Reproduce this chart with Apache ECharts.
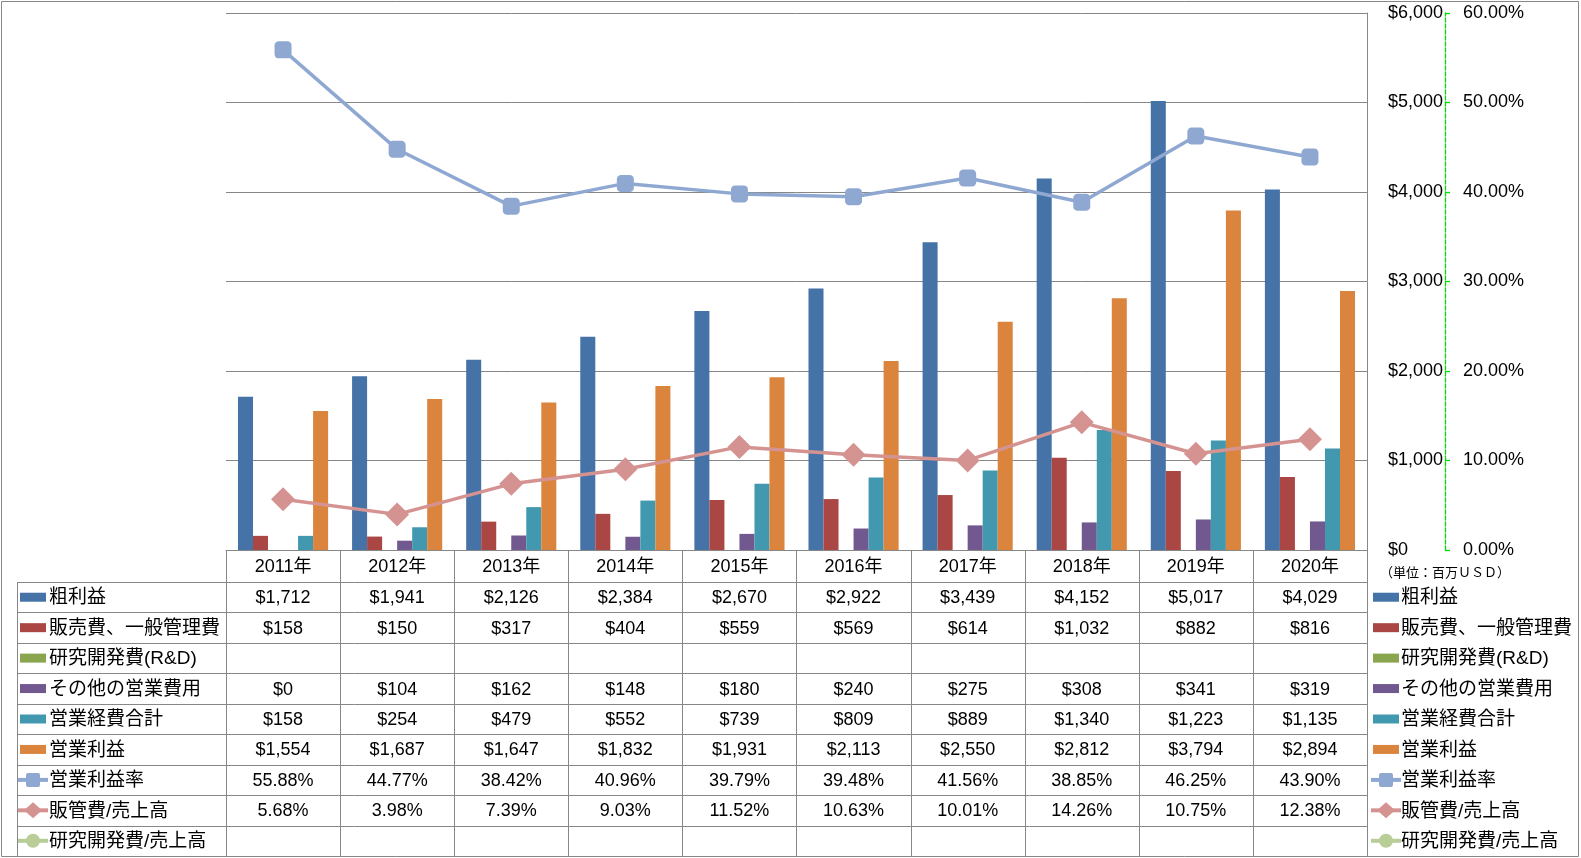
<!DOCTYPE html>
<html>
<head>
<meta charset="utf-8">
<script src="https://cdn.jsdelivr.net/npm/echarts@6/dist/echarts.min.js"></script>
<style>
html,body{margin:0;padding:0;background:#fff;}
#chart{width:1581px;height:858px;}
</style>
</head>
<body>
<div id="chart"></div>
<script>
// ---- data ----
const categories = ['2011年','2012年','2013年','2014年','2015年','2016年','2017年','2018年','2019年','2020年'];
const grossProfit = [1712,1941,2126,2384,2670,2922,3439,4152,5017,4029];
const sgaExpense = [158,150,317,404,559,569,614,1032,882,816];
const rndExpense = [null,null,null,null,null,null,null,null,null,null];
const otherOpex = [0,104,162,148,180,240,275,308,341,319];
const totalOpex = [158,254,479,552,739,809,889,1340,1223,1135];
const opIncome = [1554,1687,1647,1832,1931,2113,2550,2812,3794,2894];
const opMargin = [55.88,44.77,38.42,40.96,39.79,39.48,41.56,38.85,46.25,43.90];
const sgaRatio = [5.68,3.98,7.39,9.03,11.52,10.63,10.01,14.26,10.75,12.38];
const rndRatio = [null,null,null,null,null,null,null,null,null,null];
const seriesNames = ['粗利益','販売費、一般管理費','研究開発費(R&D)','その他の営業費用','営業経費合計','営業利益','営業利益率','販管費/売上高','研究開発費/売上高'];
const unitLabel = '（単位：百万ＵＳＤ）';

// ---- styles ----
const FONT = "'Liberation Sans','Noto Sans CJK JP',sans-serif";
const barColors = ['#4572A7','#AA4643','#89A54E','#71588F','#4198AF','#DB843D'];
const lineColors = ['#8FA8D2','#D49391','#B8CD97'];
const gridColor = '#878787';

const barData = [grossProfit, sgaExpense, rndExpense, otherOpex, totalOpex, opIncome];
const lineData = [opMargin, sgaRatio, rndRatio];
const lineSymbols = ['roundRect','diamond','circle'];
const lineSymbolSizes = [17,24,16];

const chart = echarts.init(document.getElementById('chart'), null, {renderer:'canvas'});

const series = [];
barData.forEach((d,i)=>{
  series.push({
    name: seriesNames[i], type:'bar', yAxisIndex:0, data:d,
    barGap:'0%', barCategoryGap:'21%',
    itemStyle:{color:barColors[i]}, z:2
  });
});
lineData.forEach((d,i)=>{
  series.push({
    name: seriesNames[6+i], type:'line', yAxisIndex:1, data:d,
    symbol: lineSymbols[i], symbolSize: lineSymbolSizes[i], showSymbol:true,
    lineStyle:{color:lineColors[i], width:3.5},
    itemStyle:{color:lineColors[i]}, z:5
  });
});

chart.setOption({
  animation:false,
  backgroundColor:'#fff',
  grid:{left:226, right:214, top:13, bottom:308, containLabel:false},
  xAxis:{
    type:'category', data:categories, boundaryGap:true,
    axisLine:{show:true, lineStyle:{color:gridColor, width:1}},
    axisTick:{show:false},
    axisLabel:{color:'#000', fontSize:18, fontFamily:FONT, margin:8}
  },
  yAxis:[
    {type:'value', position:'right', min:0, max:6000, interval:1000,
     axisLine:{show:true, lineStyle:{color:gridColor}},
     axisTick:{show:false},
     splitLine:{show:true, lineStyle:{color:gridColor, width:1}},
     axisLabel:{color:'#000', fontSize:18, fontFamily:FONT, margin:21, align:'left',
       formatter:v=>'$'+v.toLocaleString('en-US')}},
    {type:'value', position:'right', offset:78, min:0, max:60, interval:10,
     axisLine:{show:true, lineStyle:{color:'#00DD00', type:[4,2], width:1.3}},
     axisTick:{show:true, length:5, lineStyle:{color:'#00DD00', width:1.3}},
     splitLine:{show:false},
     axisLabel:{color:'#000', fontSize:18, fontFamily:FONT, margin:18, align:'left',
       formatter:v=>v.toFixed(2)+'%'}}
  ],
  series: series
});

// ---- data table & legends, positioned from the axes ----
function buildTable(){
  const cx = categories.map((c,i)=>chart.convertToPixel({xAxisIndex:0}, i));
  const band = cx[1]-cx[0];
  const plotLeft = cx[0]-band/2;
  const plotRight = cx[cx.length-1]+band/2;
  const y0 = chart.convertToPixel({yAxisIndex:0}, 0);
  const headerBottom = y0 + 32;
  const tableBottom = 856;
  const rowH = (tableBottom - headerBottom)/9;
  const leftX = 17;
  const g = [];
  const px = v=>Math.round(v)+0.5;
  const ln = (x1,y1,x2,y2,color,w,dash)=>g.push({type:'line', silent:true, z:10,
    shape:{x1:x1,y1:y1,x2:x2,y2:y2}, style:{stroke:color, lineWidth:w||1, lineDash:dash||null}});

  // outer frame
  g.push({type:'rect', silent:true, z:10, shape:{x:1.5,y:1.5,width:1577,height:855},
    style:{fill:null, stroke:gridColor, lineWidth:1}});

  // horizontal lines
  for(let r=0;r<9;r++){
    const y = px(headerBottom + r*rowH);
    ln(leftX, y, plotRight, y, gridColor);
  }
  // vertical lines
  ln(px(leftX), headerBottom, px(leftX), tableBottom, gridColor);
  for(let i=0;i<=categories.length;i++){
    const x = px(plotLeft + i*band);
    ln(x, y0, x, tableBottom, gridColor);
  }

  const fmtDollar = v => v==null ? '' : '$'+v.toLocaleString('en-US');
  const fmtPct = v => v==null ? '' : v.toFixed(2)+'%';
  const rows = [
    barData[0].map(fmtDollar), barData[1].map(fmtDollar), barData[2].map(fmtDollar),
    barData[3].map(fmtDollar), barData[4].map(fmtDollar), barData[5].map(fmtDollar),
    lineData[0].map(fmtPct), lineData[1].map(fmtPct), lineData[2].map(fmtPct)
  ];
  rows.forEach((row,r)=>{
    const yc = headerBottom + r*rowH + rowH/2;
    row.forEach((t,i)=>{
      if(t==='') return;
      g.push({type:'text', silent:true, z:11, x:cx[i], y:yc+1,
        style:{text:t, fill:'#000', fontSize:18, fontFamily:FONT, textAlign:'center', textVerticalAlign:'middle'}});
    });
  });

  // legend keys (left column and right column)
  function key(x, yc, r){
    if(r<6){
      g.push({type:'rect', silent:true, z:11, shape:{x:x, y:yc-4.5, width:26, height:9},
        style:{fill:barColors[r]}});
    } else {
      const li = r-6, c = lineColors[li];
      ln(x-2, yc, x+28, yc, c, 4);
      const mx = x+13;
      if(li===0) g.push({type:'rect', silent:true, z:12, shape:{x:mx-7,y:yc-7,width:14,height:14,r:2}, style:{fill:c}});
      if(li===1) g.push({type:'polygon', silent:true, z:12, shape:{points:[[mx,yc-8],[mx+9,yc],[mx,yc+8],[mx-9,yc]]}, style:{fill:c}});
      if(li===2) g.push({type:'circle', silent:true, z:12, shape:{cx:mx,cy:yc,r:7}, style:{fill:c}});
    }
  }
  seriesNames.forEach((n,r)=>{
    const yc = headerBottom + r*rowH + rowH/2;
    key(leftX+3, yc, r);
    g.push({type:'text', silent:true, z:11, x:leftX+32, y:yc+1,
      style:{text:n, fill:'#000', fontSize:19, fontFamily:FONT, textAlign:'left', textVerticalAlign:'middle'}});
    key(plotRight+6, yc, r);
    g.push({type:'text', silent:true, z:11, x:plotRight+34, y:yc+1,
      style:{text:n, fill:'#000', fontSize:19, fontFamily:FONT, textAlign:'left', textVerticalAlign:'middle'}});
  });

  // unit label
  g.push({type:'text', silent:true, z:11, x:plotRight+13, y:y0+23,
    style:{text:unitLabel, fill:'#000', fontSize:13, fontFamily:FONT, textAlign:'left', textVerticalAlign:'middle'}});

  chart.setOption({graphic:g});
}
buildTable();
</script>
</body>
</html>
